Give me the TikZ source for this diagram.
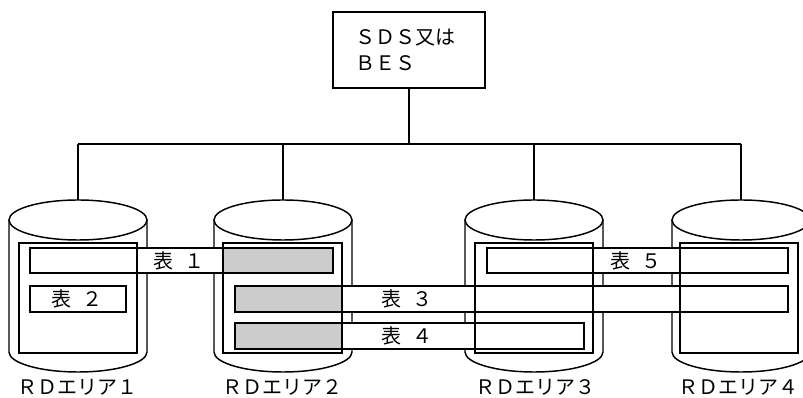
\documentclass[tikz,border=0pt]{standalone}
\usepackage{fontspec}
\newfontfamily\jpfont{Noto Sans CJK JP}
\definecolor{shade}{RGB}{204,204,204}
\begin{document}
\begin{tikzpicture}[x=0.75pt,y=-0.75pt,
  jp/.style={font=\jpfont\fontsize{15pt}{19.5pt}\selectfont, inner sep=0pt},
  boxline/.style={draw=black, line width=1.4pt},
  barfill/.style={fill=white},
  grayfill/.style={fill=shade},
  cylline/.style={draw=black, line width=1.1pt},
  wire/.style={draw=black, line width=1.1pt}]
\useasboundingbox (0,0) rectangle (803,398);
\clip (0,0) rectangle (803,398);

% server box
\node[boxline, jp, minimum width=114pt, minimum height=57pt, text width=81pt, align=left, fill=white] (sds) at (409,50) {ＳＤＳ又は\\ＢＥＳ};

% bus
\coordinate (bus) at (409,144);
\coordinate (b1) at (78,144);
\coordinate (b2) at (283,144);
\coordinate (b3) at (534,144);
\coordinate (b4) at (741,144);
\draw[wire] (b1) -- (b4);
\draw[wire] (sds.south) -- (bus);

% cylinders
\foreach \cx/\n in {78/1,283/2,534/3,741/4}{
  \coordinate (top\n) at (\cx,200);
  \draw[cylline] (\cx,220) ellipse [x radius=69, y radius=20];
  \draw[cylline] (\cx-69,220) -- (\cx-69,352)
     .. controls (\cx-69,363) and (\cx-38,372) .. (\cx,372)
     .. controls (\cx+38,372) and (\cx+69,363) .. (\cx+69,352) -- (\cx+69,220);
  \draw[wire] (b\n) -- (top\n);
}

% tables (bars)
\fill[barfill] (30,248) rectangle (333,273);
\fill[grayfill] (223,248) rectangle (333,273);
\draw[boxline] (30,248) rectangle (333,273);

\fill[barfill] (30,286) rectangle (126,312);
\draw[boxline] (30,286) rectangle (126,312);

\fill[barfill] (235,286) rectangle (788,312);
\fill[grayfill] (235,286) rectangle (342,312);
\draw[boxline] (235,286) rectangle (788,312);

\fill[barfill] (235,323) rectangle (584,349);
\fill[grayfill] (235,323) rectangle (342,349);
\draw[boxline] (235,323) rectangle (584,349);

\fill[barfill] (487,248) rectangle (788,273);
\draw[boxline] (487,248) rectangle (788,273);

% RD area frames
\draw[boxline] (19,243) rectangle (137,353);
\draw[boxline] (223,243) rectangle (342,353);
\draw[boxline] (475,243) rectangle (593,353);
\draw[boxline] (680,243) rectangle (798,353);

% table labels
\node[jp] (t1) at (179,261) {表\hspace{0.55em}１};
\node[jp] (t2) at (77,299) {表\hspace{0.55em}２};
\node[jp] (t3) at (407,299) {表\hspace{0.55em}３};
\node[jp] (t4) at (407,336) {表\hspace{0.55em}４};
\node[jp] (t5) at (636,261) {表\hspace{0.55em}５};

% RD area labels
\node[jp] (r1) at (77,387) {ＲＤエリア１};
\node[jp] (r2) at (282,387) {ＲＤエリア２};
\node[jp] (r3) at (535,387) {ＲＤエリア３};
\node[jp] (r4) at (738,387) {ＲＤエリア４};
\end{tikzpicture}
\end{document}
